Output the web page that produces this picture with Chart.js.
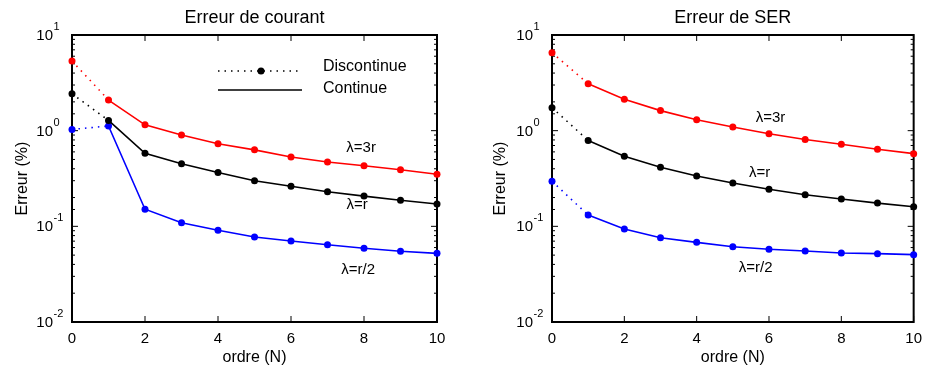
<!DOCTYPE html>
<html lang="fr">

<head>
    <meta charset="UTF-8">
    <title>Erreur de courant / Erreur de SER</title>
    <style>
        body { margin: 0; background: #fff; }
        .panneau { position: absolute; top: 0; width: 465px; height: 368px; }
        #p-gauche { left: 0; }
        #p-droite { left: 465px; }
    </style>
</head>

<body>
    <div class="panneau" id="p-gauche"><canvas id="gauche" width="465" height="368"></canvas></div>
    <div class="panneau" id="p-droite"><canvas id="droite" width="465" height="368"></canvas></div>

    <script src="https://cdn.jsdelivr.net/npm/chart.js"></script>
    <script>
        // ordre N (axe x)
        var ordres = [0, 1, 2, 3, 4, 5, 6, 7, 8, 9, 10];
        var xTicks = [0, 2, 4, 6, 8, 10];
        var yTicks = [0.01, 0.1, 1, 10];

        // Erreur de courant (%)
        var courant3r = [5.35, 2.09, 1.15, 0.90, 0.73, 0.63, 0.53, 0.47, 0.43, 0.39, 0.35];
        var courantR = [2.43, 1.28, 0.58, 0.45, 0.366, 0.30, 0.262, 0.230, 0.207, 0.187, 0.171];
        var courantR2 = [1.03, 1.12, 0.151, 0.109, 0.091, 0.0774, 0.0703, 0.0643, 0.0589, 0.0548, 0.0522];

        // Erreur de SER (%)
        var ser3r = [6.53, 3.10, 2.13, 1.62, 1.30, 1.09, 0.93, 0.81, 0.72, 0.64, 0.575];
        var serR = [1.74, 0.79, 0.54, 0.414, 0.336, 0.284, 0.244, 0.214, 0.193, 0.175, 0.160];
        var serR2 = [0.296, 0.131, 0.094, 0.076, 0.068, 0.0612, 0.0575, 0.0552, 0.0526, 0.0518, 0.0506];

        var police = '"Liberation Sans", Arial, Helvetica, sans-serif';

        function estPuissance10(v) {
            var l = Math.log10(v);
            return Math.abs(l - Math.round(l)) < 1e-6;
        }

        function serie(valeurs, couleur) {
            return {
                data: ordres.map(function (x, i) { return { x: x, y: valeurs[i] }; }),
                borderColor: couleur,
                backgroundColor: couleur,
                borderWidth: 1.6,
                pointRadius: 3.5,
                pointHoverRadius: 3.5,
                pointBorderWidth: 0,
                clip: false,
                tension: 0,
                segment: {
                    // segment 0 -> 1 en pointillés (discontinue)
                    borderDash: function (ctx) { return ctx.p0DataIndex === 0 ? [1.5, 5] : undefined; }
                }
            };
        }

        // cadre complet, graduations vers l'intérieur, étiquettes 10^n
        var cadre = {
            id: 'cadre',
            beforeDatasetsDraw: function (chart) {
                var ctx = chart.ctx, a = chart.chartArea;
                var sx = chart.scales.x, sy = chart.scales.y;
                ctx.save();
                ctx.strokeStyle = '#000';
                ctx.lineWidth = 1;
                ctx.beginPath();
                sx.ticks.forEach(function (t) {
                    var px = sx.getPixelForValue(t.value);
                    ctx.moveTo(px, a.bottom); ctx.lineTo(px, a.bottom - 6);
                    ctx.moveTo(px, a.top); ctx.lineTo(px, a.top + 6);
                });
                sy.ticks.forEach(function (t) {
                    var py = sy.getPixelForValue(t.value);
                    var l = estPuissance10(t.value) ? 6 : 3;
                    ctx.moveTo(a.left, py); ctx.lineTo(a.left + l, py);
                    ctx.moveTo(a.right, py); ctx.lineTo(a.right - l, py);
                });
                ctx.stroke();
                ctx.lineWidth = 2;
                ctx.strokeRect(a.left, a.top, a.right - a.left, a.bottom - a.top);

                // étiquettes de l'axe y : "10" + exposant
                ctx.fillStyle = '#000';
                ctx.textBaseline = 'middle';
                var xb = a.left - 19;
                yTicks.forEach(function (v) {
                    var py = sy.getPixelForValue(v);
                    var e = String(Math.round(Math.log10(v)));
                    ctx.font = '15px ' + police;
                    ctx.textAlign = 'right';
                    ctx.fillText('10', xb, py + 1);
                    ctx.font = '11px ' + police;
                    ctx.textAlign = 'left';
                    ctx.fillText(e, xb + 0.5, py - 8);
                });
                ctx.restore();
            }
        };

        // étiquettes lambda et légende
        var notes = {
            id: 'notes',
            afterDatasetsDraw: function (chart, args, opts) {
                var ctx = chart.ctx, sx = chart.scales.x, sy = chart.scales.y;
                ctx.save();
                ctx.fillStyle = '#000';
                ctx.font = '15px ' + police;
                ctx.textAlign = 'center';
                ctx.textBaseline = 'middle';
                (opts.textes || []).forEach(function (n) {
                    ctx.fillText(n.texte, sx.getPixelForValue(n.x), sy.getPixelForValue(n.y));
                });
                if (opts.legende) {
                    ctx.strokeStyle = '#000';
                    ctx.lineWidth = 1.5;
                    ctx.setLineDash([1.5, 5]);
                    ctx.beginPath(); ctx.moveTo(218, 71); ctx.lineTo(302, 71); ctx.stroke();
                    ctx.setLineDash([]);
                    ctx.beginPath(); ctx.arc(261, 71, 3.5, 0, Math.PI * 2); ctx.fill();
                    ctx.beginPath(); ctx.moveTo(218, 90); ctx.lineTo(302, 90); ctx.stroke();
                    ctx.font = '16px ' + police;
                    ctx.textAlign = 'left';
                    ctx.fillText('Discontinue', 323, 67);
                    ctx.fillText('Continue', 323, 89);
                }
                ctx.restore();
            }
        };

        function graphique(id, titre, s3r, sR, sR2, marge, textes, legende) {
            return new Chart(document.getElementById(id).getContext('2d'), {
                type: 'line',
                data: {
                    datasets: [serie(s3r, '#ff0000'), serie(sR, '#000000'), serie(sR2, '#0000ff')]
                },
                options: {
                    responsive: false,
                    animation: false,
                    events: [],
                    layout: { padding: { left: marge.gauche, right: marge.droite, top: 0, bottom: 0 } },
                    scales: {
                        x: {
                            type: 'linear',
                            min: 0,
                            max: 10,
                            grid: { display: false, drawTicks: false },
                            border: { display: false },
                            afterBuildTicks: function (s) { s.ticks = xTicks.map(function (v) { return { value: v }; }); },
                            afterFit: function (s) { s.height = 46; },
                            ticks: { color: '#000', font: { family: police, size: 15 }, padding: 8, maxRotation: 0 },
                            title: { display: true, text: 'ordre (N)', color: '#000', font: { family: police, size: 16 }, padding: { top: 0, bottom: 1 } }
                        },
                        y: {
                            type: 'logarithmic',
                            min: yTicks[0],
                            max: yTicks[yTicks.length - 1],
                            grid: { display: false, drawTicks: false },
                            border: { display: false },
                            afterFit: function (s) { s.width = marge.axe; },
                            ticks: { display: false, autoSkip: false },
                            title: { display: true, text: 'Erreur (%)', color: '#000', font: { family: police, size: 16 }, padding: { top: 4, bottom: 0 } }
                        }
                    },
                    plugins: {
                        legend: { display: false },
                        tooltip: { enabled: false },
                        title: {
                            display: true,
                            text: titre,
                            fullSize: false,
                            color: '#000',
                            font: { family: police, size: 18, weight: 'normal' },
                            padding: { top: 7, bottom: 6.4 }
                        },
                        notes: { textes: textes, legende: legende }
                    }
                },
                plugins: [cadre, notes]
            });
        }

        graphique('gauche', 'Erreur de courant', courant3r, courantR, courantR2,
            { gauche: 9, droite: 28, axe: 63 },
            [{ texte: '\u03BB=3r', x: 7.92, y: 0.659 }, { texte: '\u03BB=r', x: 7.81, y: 0.167 }, { texte: '\u03BB=r/2', x: 7.84, y: 0.035 }],
            true);

        graphique('droite', 'Erreur de SER', ser3r, serR, serR2,
            { gauche: 22, droite: 12, axe: 65 },
            [{ texte: '\u03BB=3r', x: 6.04, y: 1.36 }, { texte: '\u03BB=r', x: 5.74, y: 0.361 }, { texte: '\u03BB=r/2', x: 5.63, y: 0.0367 }],
            false);
    </script>
</body>

</html>
